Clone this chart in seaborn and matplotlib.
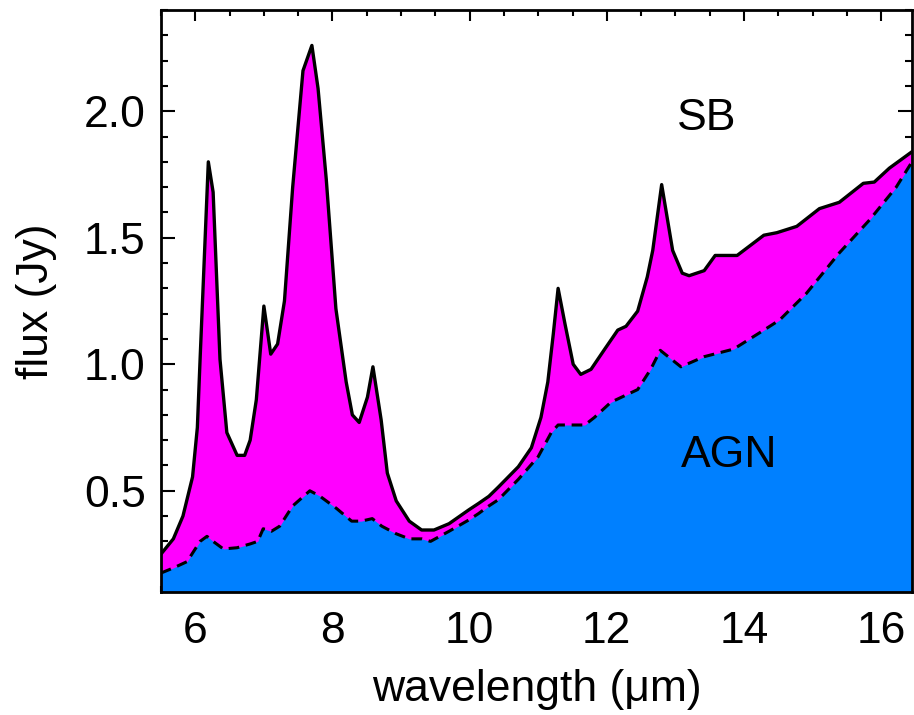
import matplotlib
matplotlib.use("Agg")
import matplotlib.pyplot as plt
from matplotlib.ticker import MultipleLocator
import seaborn as sns

# Total (AGN + starburst) spectrum
wl_total = [5.5, 5.68, 5.82, 5.96, 6.03, 6.07, 6.19, 6.26, 6.36, 6.46,
            6.61, 6.72, 6.80, 6.89, 7.0, 7.10, 7.20, 7.30, 7.42, 7.57,
            7.70, 7.79, 7.91, 8.05, 8.20, 8.29, 8.39, 8.51, 8.59, 8.71,
            8.80, 8.93, 9.12, 9.30, 9.48, 9.70, 9.99, 10.13, 10.28, 10.42,
            10.71, 10.90, 11.04, 11.14, 11.22, 11.29, 11.39, 11.51, 11.62, 11.77,
            11.97, 12.16, 12.28, 12.45, 12.59, 12.67, 12.80, 12.96, 13.10, 13.20,
            13.42, 13.58, 13.90, 14.29, 14.48, 14.77, 15.10, 15.39, 15.74, 15.90,
            16.12, 16.45]
flux_total = [0.25, 0.31, 0.40, 0.555, 0.75, 1.02, 1.80, 1.68, 1.02, 0.73,
              0.64, 0.64, 0.70, 0.86, 1.23, 1.04, 1.08, 1.25, 1.70, 2.16,
              2.26, 2.09, 1.73, 1.22, 0.93, 0.80, 0.77, 0.87, 0.99, 0.78,
              0.57, 0.46, 0.38, 0.345, 0.345, 0.37, 0.425, 0.45, 0.478, 0.515,
              0.595, 0.67, 0.79, 0.93, 1.12, 1.30, 1.16, 1.0, 0.96, 0.98,
              1.06, 1.135, 1.15, 1.21, 1.345, 1.45, 1.71, 1.45, 1.36, 1.35,
              1.37, 1.43, 1.43, 1.51, 1.52, 1.545, 1.615, 1.64, 1.715, 1.72,
              1.775, 1.84]

# AGN component
wl_agn = [5.5, 5.68, 5.88, 6.07, 6.17, 6.26, 6.41, 6.61, 6.80, 6.91,
          6.99, 7.11, 7.23, 7.42, 7.67, 7.81, 8.06, 8.28, 8.42, 8.58,
          8.72, 8.93, 9.12, 9.30, 9.43, 9.70, 9.99, 10.13, 10.28, 10.42,
          10.71, 11.0, 11.19, 11.29, 11.68, 11.82, 12.06, 12.45, 12.64, 12.78,
          13.08, 13.42, 13.85, 14.29, 14.52, 14.91, 15.39, 15.83, 16.22, 16.45]
flux_agn = [0.175, 0.195, 0.22, 0.30, 0.32, 0.30, 0.27, 0.275, 0.29, 0.30,
            0.35, 0.34, 0.36, 0.44, 0.50, 0.48, 0.43, 0.38, 0.38, 0.39,
            0.36, 0.33, 0.31, 0.31, 0.30, 0.34, 0.385, 0.41, 0.44, 0.465,
            0.545, 0.635, 0.73, 0.76, 0.76, 0.79, 0.85, 0.90, 0.98, 1.055,
            0.99, 1.03, 1.06, 1.135, 1.175, 1.28, 1.44, 1.57, 1.70, 1.80]

x_ticks = [6, 8, 10, 12, 14, 16]
y_ticks = [0.5, 1.0, 1.5, 2.0]

sns.set_style("ticks")
plt.rcParams['font.family'] = ['Liberation Sans', 'DejaVu Sans']
plt.rcParams['text.color'] = 'black'
plt.rcParams['axes.labelcolor'] = 'black'

fig = plt.figure(figsize=(9.14, 7.15), dpi=100)
ax = fig.add_axes([161/914, 1 - 592/715, (912 - 161)/914, (592 - 10)/715])

ax.fill_between(wl_total, flux_total, 0, color='#ff00ff', lw=0, zorder=1)
ax.fill_between(wl_agn, flux_agn, 0, color='#0080ff', lw=0, zorder=2)
sns.lineplot(x=wl_total, y=flux_total, ax=ax, color='black', lw=2.4,
             sort=False, estimator=None, zorder=4)
sns.lineplot(x=wl_agn, y=flux_agn, ax=ax, color='black', lw=2.2,
             linestyle=(0, (3.5, 2.2)), sort=False, estimator=None, zorder=3)

ax.set_xlim(5.5, 16.45)
ax.set_ylim(0.1, 2.4)
ax.set_xticks(x_ticks)
ax.set_yticks(y_ticks)
ax.set_yticklabels([f"{v:.1f}" for v in y_ticks])
ax.xaxis.set_minor_locator(MultipleLocator(0.5))
ax.yaxis.set_minor_locator(MultipleLocator(0.1))

for s in ax.spines.values():
    s.set_linewidth(2.0)
    s.set_color('black')
    s.set_visible(True)
    s.set_zorder(6)

ax.tick_params(axis='both', which='both', direction='in', top=True, right=True,
               width=1.5, colors='black', labelsize=32)
ax.tick_params(axis='x', which='major', length=8, pad=14)
ax.tick_params(axis='x', which='minor', length=4)
ax.tick_params(axis='y', which='major', length=10, pad=11)
ax.tick_params(axis='y', which='minor', length=5)

ax.set_xlabel("wavelength (μm)", fontsize=32, labelpad=12, color='black')
ax.set_ylabel("flux (Jy)", fontsize=32, labelpad=19, color='black')

ax.text(13.45, 1.97, "SB", fontsize=32, ha='center', va='center', color='black', zorder=7)
ax.text(13.78, 0.64, "AGN", fontsize=32, ha='center', va='center', color='black', zorder=7)

fig.savefig("out.png", dpi=100)
